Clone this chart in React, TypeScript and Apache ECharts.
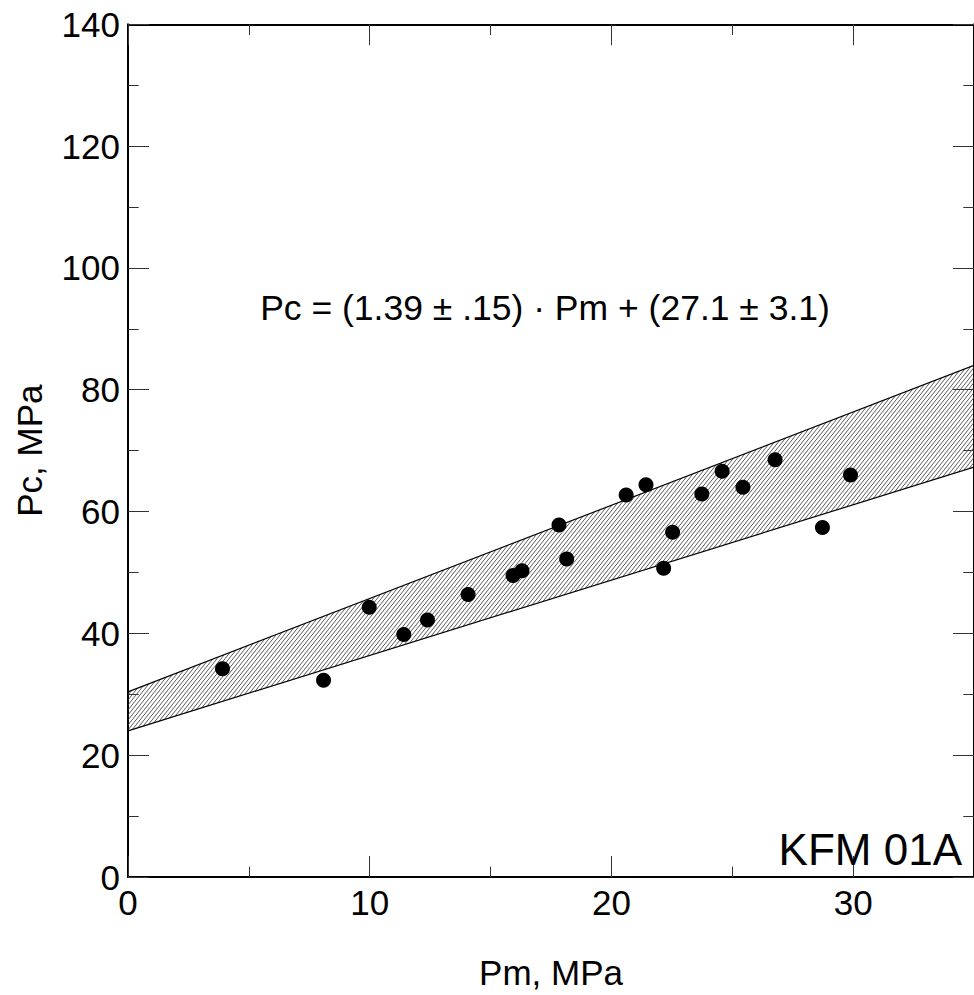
import React, { useEffect, useRef } from "react";
import * as echarts from "echarts";

const pmValues = [3.91, 8.09, 9.98, 11.41, 12.39, 14.07, 15.93, 16.3, 17.83, 18.15, 20.61, 21.43, 22.16, 22.53, 23.74, 24.58, 25.44, 26.77, 28.73, 29.89];
const pcValues = [34.2, 32.3, 44.3, 39.8, 42.2, 46.4, 49.5, 50.3, 57.8, 52.2, 62.7, 64.4, 50.7, 56.6, 62.9, 66.6, 64.0, 68.5, 57.4, 66.0];

// Confidence band edges
const bandUpper = [[0, 30.4], [35, 84.0]];
const bandLower = [[0, 24.0], [35, 67.3]];

const xTicksMajor = [0, 10, 20, 30];
const yTicks = [0, 20, 40, 60, 80, 100, 120, 140];

const equationText = "Pc = (1.39 ± .15) · Pm + (27.1 ± 3.1)";
const boreholeText = "KFM 01A";
const xName = "Pm, MPa";
const yName = "Pc, MPa";

const FONT = "'Liberation Sans', Arial, Helvetica, sans-serif";

function makeHatch() {
  const w = 4, h = 5;
  const c = document.createElement("canvas");
  c.width = w; c.height = h;
  const ctx = c.getContext("2d")!;
  ctx.strokeStyle = "#333"; ctx.lineWidth = 0.8;
  for (let k = -1; k <= 1; k++) {
    ctx.beginPath(); ctx.moveTo(-w + k * w, 2 * h); ctx.lineTo(2 * w + k * w, -h); ctx.stroke();
  }
  return { image: c.toDataURL(), repeat: "repeat", imageWidth: w, imageHeight: h };
}

export default function App() {
  const ref = useRef<HTMLDivElement>(null);
  useEffect(() => {
    if (!ref.current) return;
    const chart = echarts.init(ref.current, null, { renderer: "svg" });
    const hatch = makeHatch();
    const gridRect = { left: 128, right: -6.5, top: 24.3, bottom: 117.7 };
    const tickStyle = { color: "#333", width: 1 };
    const axisLine = { show: true, onZero: false, lineStyle: { color: "#000", width: 2 } };
    const noLine = { show: false, onZero: false };
    const scatterData = pmValues.map((x, i) => [x, pcValues[i]]);

    chart.setOption({
      animation: false,
      backgroundColor: "#fff",
      textStyle: { fontFamily: FONT },
      grid: [{ ...gridRect }, { ...gridRect }],
      xAxis: [
        { type: "value", gridIndex: 0, position: "bottom", min: 0, max: 35, interval: 10,
          axisLine,
          axisTick: { show: true, inside: true, length: 21, lineStyle: tickStyle },
          axisLabel: { show: true, margin: 8, fontSize: 35, color: "#000", showMaxLabel: false,
            formatter: (v: number) => (xTicksMajor.includes(v) ? String(v) : "") },
          splitLine: { show: false },
          name: xName, nameLocation: "middle", nameGap: 78,
          nameTextStyle: { fontSize: 35, color: "#000" } },
        { type: "value", gridIndex: 0, position: "top", min: 0, max: 35, interval: 10,
          axisLine,
          axisTick: { show: true, inside: true, length: 21, lineStyle: tickStyle },
          axisLabel: { show: false }, splitLine: { show: false } },
        { type: "value", gridIndex: 1, position: "bottom", min: 0, max: 35, interval: 5,
          axisLine: noLine,
          axisTick: { show: true, inside: true, length: 10.7, lineStyle: tickStyle },
          axisLabel: { show: false }, splitLine: { show: false } },
        { type: "value", gridIndex: 1, position: "top", min: 0, max: 35, interval: 5,
          axisLine: noLine,
          axisTick: { show: true, inside: true, length: 10.7, lineStyle: tickStyle },
          axisLabel: { show: false }, splitLine: { show: false } },
      ],
      yAxis: [
        { type: "value", gridIndex: 0, position: "left", min: 0, max: 140, interval: 20,
          axisLine,
          axisTick: { show: true, inside: true, length: 21, lineStyle: tickStyle },
          minorTick: { show: true, splitNumber: 2, length: 10.7, lineStyle: tickStyle },
          axisLabel: { show: true, margin: 8, fontSize: 35, color: "#000",
            formatter: (v: number) => (yTicks.includes(v) ? String(v) : "") },
          splitLine: { show: false }, minorSplitLine: { show: false },
          name: yName, nameLocation: "middle", nameGap: 81,
          nameTextStyle: { fontSize: 35, color: "#000" } },
        { type: "value", gridIndex: 0, position: "right", min: 0, max: 140, interval: 20,
          axisLine,
          axisTick: { show: true, inside: true, length: 21, lineStyle: tickStyle },
          minorTick: { show: true, splitNumber: 2, length: 10.7, lineStyle: tickStyle },
          axisLabel: { show: false }, splitLine: { show: false } },
        { type: "value", gridIndex: 1, position: "left", min: 0, max: 140, show: false,
          axisLine: noLine },
      ],
      series: [
        { type: "custom", xAxisIndex: 0, yAxisIndex: 0, data: [bandLower[0]], silent: true, z: 1,
          renderItem: (_p: any, api: any) => ({
            type: "polygon",
            shape: { points: [api.coord(bandLower[0]), api.coord(bandLower[1]), api.coord(bandUpper[1]), api.coord(bandUpper[0])] },
            style: { fill: hatch, stroke: null },
          }) },
        { type: "line", xAxisIndex: 0, yAxisIndex: 0, data: bandUpper, symbol: "none",
          lineStyle: { color: "#000", width: 1.2 }, z: 2, silent: true },
        { type: "line", xAxisIndex: 0, yAxisIndex: 0, data: bandLower, symbol: "none",
          lineStyle: { color: "#000", width: 1.2 }, z: 2, silent: true },
        { type: "scatter", xAxisIndex: 0, yAxisIndex: 0, data: scatterData, symbol: "circle",
          symbolSize: 15, itemStyle: { color: "#000", opacity: 1 }, z: 3 },
      ],
      graphic: [
        { type: "text", x: 545, y: 308, z: 10,
          style: { text: equationText, fontSize: 35.5, fontFamily: FONT, fill: "#000", textAlign: "center", textVerticalAlign: "middle" } },
        { type: "text", x: 962, y: 849, z: 10,
          style: { text: boreholeText, fontSize: 44, fontFamily: FONT, fill: "#000", textAlign: "right", textVerticalAlign: "middle" } },
      ],
    });
    return () => chart.dispose();
  }, []);
  return <div ref={ref} style={{ position: "absolute", left: 0, top: 0, width: 974, height: 995 }} />;
}
